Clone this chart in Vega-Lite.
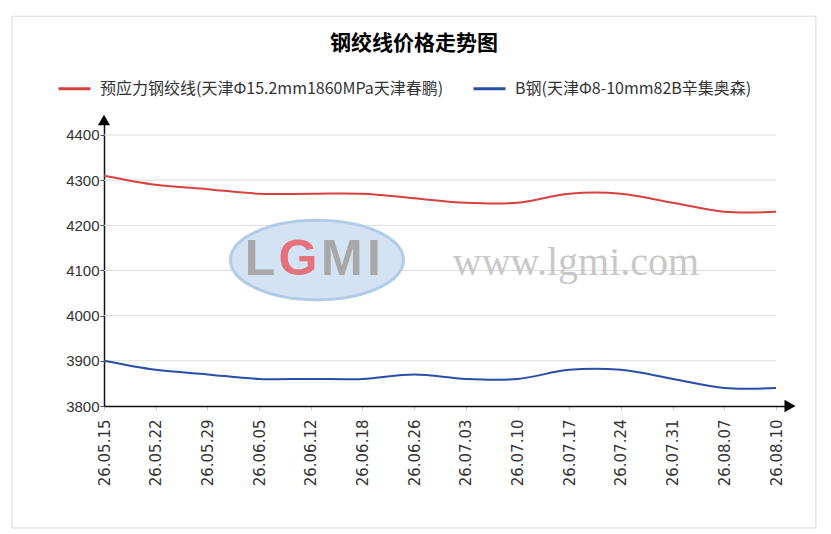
{
  "$schema": "https://vega.github.io/schema/vega-lite/v6.json",
  "width": 686,
  "height": 286,
  "autosize": "none",
  "padding": {"left": 104, "top": 120, "right": 41, "bottom": 128},
  "background": "white",
  "config": {
    "view": {"stroke": null},
    "font": "Noto Sans CJK SC"
  },
  "title": {
    "text": "钢绞线价格走势图",
    "font": "Noto Sans CJK SC",
    "fontSize": 21,
    "fontWeight": "bold",
    "color": "#000000",
    "anchor": "middle",
    "frame": "group",
    "dx": -33,
    "offset": -38
  },
  "datasets": {
    "prices": [
      {"i": 0, "date": "26.05.15", "series": "预应力钢绞线(天津Φ15.2mm1860MPa天津春鹏)", "price": 4310},
      {"i": 1, "date": "26.05.22", "series": "预应力钢绞线(天津Φ15.2mm1860MPa天津春鹏)", "price": 4290},
      {"i": 2, "date": "26.05.29", "series": "预应力钢绞线(天津Φ15.2mm1860MPa天津春鹏)", "price": 4280},
      {"i": 3, "date": "26.06.05", "series": "预应力钢绞线(天津Φ15.2mm1860MPa天津春鹏)", "price": 4270},
      {"i": 4, "date": "26.06.12", "series": "预应力钢绞线(天津Φ15.2mm1860MPa天津春鹏)", "price": 4270},
      {"i": 5, "date": "26.06.18", "series": "预应力钢绞线(天津Φ15.2mm1860MPa天津春鹏)", "price": 4270},
      {"i": 6, "date": "26.06.26", "series": "预应力钢绞线(天津Φ15.2mm1860MPa天津春鹏)", "price": 4260},
      {"i": 7, "date": "26.07.03", "series": "预应力钢绞线(天津Φ15.2mm1860MPa天津春鹏)", "price": 4250},
      {"i": 8, "date": "26.07.10", "series": "预应力钢绞线(天津Φ15.2mm1860MPa天津春鹏)", "price": 4250},
      {"i": 9, "date": "26.07.17", "series": "预应力钢绞线(天津Φ15.2mm1860MPa天津春鹏)", "price": 4270},
      {"i": 10, "date": "26.07.24", "series": "预应力钢绞线(天津Φ15.2mm1860MPa天津春鹏)", "price": 4270},
      {"i": 11, "date": "26.07.31", "series": "预应力钢绞线(天津Φ15.2mm1860MPa天津春鹏)", "price": 4250},
      {"i": 12, "date": "26.08.07", "series": "预应力钢绞线(天津Φ15.2mm1860MPa天津春鹏)", "price": 4230},
      {"i": 13, "date": "26.08.10", "series": "预应力钢绞线(天津Φ15.2mm1860MPa天津春鹏)", "price": 4230},
      {"i": 0, "date": "26.05.15", "series": "B钢(天津Φ8-10mm82B辛集奥森)", "price": 3900},
      {"i": 1, "date": "26.05.22", "series": "B钢(天津Φ8-10mm82B辛集奥森)", "price": 3880},
      {"i": 2, "date": "26.05.29", "series": "B钢(天津Φ8-10mm82B辛集奥森)", "price": 3870},
      {"i": 3, "date": "26.06.05", "series": "B钢(天津Φ8-10mm82B辛集奥森)", "price": 3860},
      {"i": 4, "date": "26.06.12", "series": "B钢(天津Φ8-10mm82B辛集奥森)", "price": 3860},
      {"i": 5, "date": "26.06.18", "series": "B钢(天津Φ8-10mm82B辛集奥森)", "price": 3860},
      {"i": 6, "date": "26.06.26", "series": "B钢(天津Φ8-10mm82B辛集奥森)", "price": 3870},
      {"i": 7, "date": "26.07.03", "series": "B钢(天津Φ8-10mm82B辛集奥森)", "price": 3860},
      {"i": 8, "date": "26.07.10", "series": "B钢(天津Φ8-10mm82B辛集奥森)", "price": 3860},
      {"i": 9, "date": "26.07.17", "series": "B钢(天津Φ8-10mm82B辛集奥森)", "price": 3880},
      {"i": 10, "date": "26.07.24", "series": "B钢(天津Φ8-10mm82B辛集奥森)", "price": 3880},
      {"i": 11, "date": "26.07.31", "series": "B钢(天津Φ8-10mm82B辛集奥森)", "price": 3860},
      {"i": 12, "date": "26.08.07", "series": "B钢(天津Φ8-10mm82B辛集奥森)", "price": 3840},
      {"i": 13, "date": "26.08.10", "series": "B钢(天津Φ8-10mm82B辛集奥森)", "price": 3840}
    ],
    "grid": [{"v": 3900}, {"v": 4000}, {"v": 4100}, {"v": 4200}, {"v": 4300}, {"v": 4400}],
    "one": [{}]
  },
  "layer": [
    {
      "data": {"name": "one"},
      "mark": {"type": "rect", "fill": null, "stroke": "#d9d9d9", "strokeWidth": 1},
      "encoding": {
        "x": {"datum": -1.78, "type": "quantitative"},
        "x2": {"datum": 13.77},
        "y": {"datum": 4663, "type": "quantitative"},
        "y2": {"datum": 3530}
      }
    },
    {
      "data": {"name": "grid"},
      "mark": {"type": "rule", "color": "#dcdcdc", "strokeWidth": 1},
      "encoding": {
        "x": {"datum": 0, "type": "quantitative"},
        "x2": {"datum": 13},
        "y": {"field": "v", "type": "quantitative"}
      }
    },
    {
      "data": {"name": "one"},
      "mark": {"type": "point", "shape": "M-1,0A1,0.46 0 1,0 1,0A1,0.46 0 1,0 -1,0Z", "size": 29900, "filled": true, "fill": "#d3e3f4", "stroke": "#b2cce8", "strokeWidth": 3, "opacity": 1},
      "encoding": {
        "x": {"datum": 4.12, "type": "quantitative"},
        "y": {"datum": 4123, "type": "quantitative"}
      }
    },
    {
      "data": {"name": "one"},
      "mark": {"type": "text", "text": "L", "font": "Liberation Sans", "fontSize": 50, "fontWeight": "bold", "color": "#a8a8a8", "baseline": "middle"},
      "encoding": {"x": {"datum": 3.02, "type": "quantitative"}, "y": {"datum": 4123, "type": "quantitative"}}
    },
    {
      "data": {"name": "one"},
      "mark": {"type": "text", "text": "G", "font": "Liberation Sans", "fontSize": 50, "fontWeight": "bold", "color": "#e4727c", "baseline": "middle"},
      "encoding": {"x": {"datum": 3.75, "type": "quantitative"}, "y": {"datum": 4123, "type": "quantitative"}}
    },
    {
      "data": {"name": "one"},
      "mark": {"type": "text", "text": "M", "font": "Liberation Sans", "fontSize": 50, "fontWeight": "bold", "color": "#a8a8a8", "baseline": "middle"},
      "encoding": {"x": {"datum": 4.6, "type": "quantitative"}, "y": {"datum": 4123, "type": "quantitative"}}
    },
    {
      "data": {"name": "one"},
      "mark": {"type": "text", "text": "I", "font": "Liberation Sans", "fontSize": 50, "fontWeight": "bold", "color": "#a8a8a8", "baseline": "middle"},
      "encoding": {"x": {"datum": 5.22, "type": "quantitative"}, "y": {"datum": 4123, "type": "quantitative"}}
    },
    {
      "data": {"name": "one"},
      "mark": {"type": "text", "text": "www.lgmi.com", "font": "Liberation Serif", "fontSize": 40, "color": "#c8c8c8", "baseline": "middle"},
      "encoding": {"x": {"datum": 9.13, "type": "quantitative"}, "y": {"datum": 4117, "type": "quantitative"}}
    },
    {
      "data": {"name": "prices"},
      "mark": {"type": "line", "interpolate": "cardinal", "strokeWidth": 2},
      "encoding": {
        "x": {
          "field": "i",
          "type": "quantitative",
          "scale": {"domain": [0, 13.27], "nice": false, "zero": false},
          "axis": {
            "values": [0, 1, 2, 3, 4, 5, 6, 7, 8, 9, 10, 11, 12, 13],
            "labelExpr": "['26.05.15','26.05.22','26.05.29','26.06.05','26.06.12','26.06.18','26.06.26','26.07.03','26.07.10','26.07.17','26.07.24','26.07.31','26.08.07','26.08.10'][datum.value]",
            "title": null,
            "grid": false,
            "labelAngle": -90,
            "labelFont": "DejaVu Sans",
            "labelFontSize": 15,
            "labelColor": "#333333",
            "labelPadding": 9,
            "tickSize": 4,
            "tickColor": "#cccccc",
            "domainColor": "#111111",
            "domainWidth": 1.5
          }
        },
        "y": {
          "field": "price",
          "type": "quantitative",
          "scale": {"domain": [3800, 4433.2], "nice": false, "zero": false},
          "axis": {
            "values": [3800, 3900, 4000, 4100, 4200, 4300, 4400],
            "format": "d",
            "title": null,
            "grid": false,
            "labelFont": "Liberation Sans",
            "labelFontSize": 15,
            "labelColor": "#333333",
            "labelPadding": 1,
            "tickSize": 4,
            "tickColor": "#555555",
            "domainColor": "#111111",
            "domainWidth": 1.5
          }
        },
        "color": {
          "field": "series",
          "type": "nominal",
          "scale": {
            "domain": ["预应力钢绞线(天津Φ15.2mm1860MPa天津春鹏)", "B钢(天津Φ8-10mm82B辛集奥森)"],
            "range": ["#d8403f", "#2a4ea8"]
          },
          "legend": {
            "title": null,
            "orient": "none",
            "legendX": -47,
            "legendY": -49,
            "direction": "horizontal",
            "symbolType": "stroke",
            "symbolSize": 1024,
            "symbolStrokeWidth": 3,
            "labelFont": "Noto Sans CJK SC",
            "labelFontSize": 16,
            "labelColor": "#333333",
            "labelOffset": 8,
            "columnPadding": 23,
            "labelLimit": 500
          }
        },
        "detail": {"field": "series"}
      }
    },
    {
      "data": {"name": "one"},
      "mark": {"type": "point", "shape": "triangle-up", "size": 150, "filled": true, "color": "#000000", "opacity": 1},
      "encoding": {"x": {"datum": 0, "type": "quantitative"}, "y": {"datum": 4433.2, "type": "quantitative"}}
    },
    {
      "data": {"name": "one"},
      "mark": {"type": "point", "shape": "triangle-right", "size": 160, "filled": true, "color": "#000000", "opacity": 1},
      "encoding": {"x": {"datum": 13.27, "type": "quantitative"}, "y": {"datum": 3800, "type": "quantitative"}}
    }
  ]
}
